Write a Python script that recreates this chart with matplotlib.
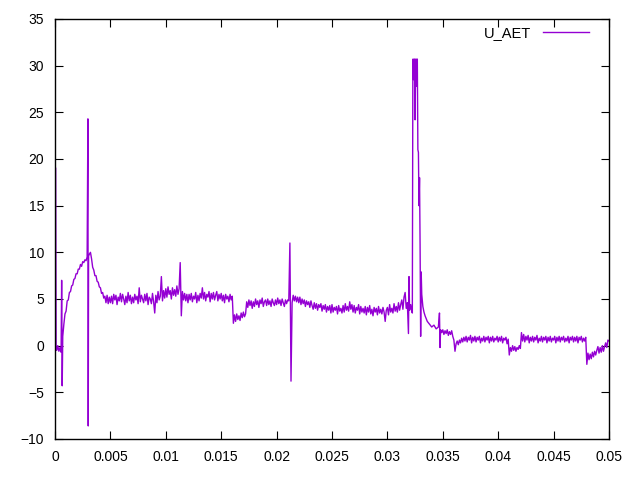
#!/usr/bin/env python3
"""U_AET voltage trace, gnuplot-like look."""

import matplotlib

matplotlib.use("Agg")
import matplotlib.pyplot as plt
from matplotlib.ticker import FormatStrFormatter, MultipleLocator

plt.rcParams["font.family"] = ["Liberation Sans", "DejaVu Sans"]

# time in ms
t_start = [0.06, 0.1, 0.15, 0.25, 0.35, 0.45, 0.55, 0.6, 0.65, 0.7, 0.8, 0.9, 1.0,
           1.1, 1.2, 1.3, 1.4, 1.5, 1.6, 1.7, 1.8, 1.9, 2.0, 2.1, 2.2, 2.3, 2.4,
           2.5, 2.6, 2.7, 2.8, 2.9, 2.97, 3.0, 3.03, 3.1, 3.2, 3.3, 3.4, 3.5, 3.6,
           3.7, 3.8, 3.9, 4.0, 4.1, 4.2, 4.3, 4.4, 4.5, 4.6, 4.7, 4.8, 4.9]
u_start = [19.0, -0.3, -0.5, 0.0, -0.6, -0.2, -0.7, 7.0, -4.3, 1.0, 2.3, 3.4, 3.7,
           4.8, 4.9, 5.7, 5.8, 6.4, 6.5, 7.1, 7.2, 7.7, 7.7, 8.2, 8.2, 8.7, 8.5,
           9.0, 8.9, 9.2, 9.1, 9.5, 24.3, -8.6, 9.6, 9.8, 10.0, 9.3, 8.4, 8.1, 7.5,
           7.5, 6.9, 6.8, 6.3, 6.2, 5.6, 5.7, 5.1, 5.3, 4.6, 5.4, 4.5, 5.2]

t_mid = [
    5.0, 5.1, 5.2, 5.3, 5.4, 5.5, 5.6, 5.7, 5.8, 5.9,
    6.0, 6.1, 6.2, 6.3, 6.4, 6.5, 6.6, 6.7, 6.8, 6.9,
    7.0, 7.1, 7.2, 7.3, 7.4, 7.5, 7.6, 7.7, 7.8, 7.9,
    8.0, 8.1, 8.2, 8.3, 8.4, 8.5, 8.6, 8.7, 8.8, 8.9,
    9.0, 9.1, 9.2, 9.3, 9.4, 9.5, 9.6, 9.7, 9.8, 9.9,
    10.0, 10.1, 10.2, 10.3, 10.4, 10.5, 10.6, 10.7, 10.8, 10.9,
    11.0, 11.1, 11.2, 11.3, 11.4, 11.5, 11.6, 11.7, 11.8, 11.9,
    12.0, 12.1, 12.2, 12.3, 12.4, 12.5, 12.6, 12.7, 12.8, 12.9,
    13.0, 13.1, 13.2, 13.3, 13.4, 13.5, 13.6, 13.7, 13.8, 13.9,
    14.0, 14.1, 14.2, 14.3, 14.4, 14.5, 14.6, 14.7, 14.8, 14.9,
    15.0, 15.1, 15.2, 15.3, 15.4, 15.5, 15.6, 15.7, 15.8, 15.9,
    16.0, 16.1, 16.2, 16.3, 16.4, 16.5, 16.6, 16.7, 16.8, 16.9,
    17.0, 17.1, 17.2, 17.3, 17.4, 17.5, 17.6, 17.7, 17.8, 17.9,
    18.0, 18.1, 18.2, 18.3, 18.4, 18.5, 18.6, 18.7, 18.8, 18.9,
    19.0, 19.1, 19.2, 19.3, 19.4, 19.5, 19.6, 19.7, 19.8, 19.9,
    20.0, 20.1, 20.2, 20.3, 20.4, 20.5, 20.6, 20.7, 20.8, 20.9,
    21.0, 21.1, 21.2, 21.3, 21.4, 21.5, 21.6, 21.7, 21.8, 21.9,
    22.0, 22.1, 22.2, 22.3, 22.4, 22.5, 22.6, 22.7, 22.8, 22.9,
    23.0, 23.1, 23.2, 23.3, 23.4, 23.5, 23.6, 23.7, 23.8, 23.9,
    24.0, 24.1, 24.2, 24.3, 24.4, 24.5, 24.6, 24.7, 24.8, 24.9,
    25.0, 25.1, 25.2, 25.3, 25.4, 25.5, 25.6, 25.7, 25.8, 25.9,
    26.0, 26.1, 26.2, 26.3, 26.4, 26.5, 26.6, 26.7, 26.8, 26.9,
    27.0, 27.1, 27.2, 27.3, 27.4, 27.5, 27.6, 27.7, 27.8, 27.9,
    28.0, 28.1, 28.2, 28.3, 28.4, 28.5, 28.6, 28.7, 28.8, 28.9,
    29.0, 29.1, 29.2, 29.3, 29.4, 29.5, 29.6, 29.7, 29.8, 29.9,
    30.0, 30.1, 30.2, 30.3, 30.4, 30.5, 30.6, 30.7, 30.8, 30.9,
    31.0, 31.1, 31.2, 31.3, 31.4, 31.5, 31.6, 31.7, 31.8, 31.9,
    31.95, 32.0, 32.1, 32.2,
]
u_mid = [
    4.6, 5.3, 4.5, 5.5, 4.9, 5.4, 4.4, 5.2, 4.8, 5.6,
    4.7, 5.5, 5.0, 4.4, 5.3, 4.6, 5.7, 4.8, 5.4, 4.5,
    5.2, 4.6, 5.5, 4.9, 5.3, 4.5, 6.2, 4.7, 5.4, 5.0,
    4.6, 5.5, 4.8, 5.6, 4.4, 5.2, 5.0, 4.5, 5.6, 4.7,
    3.5, 5.4, 4.6, 5.8, 4.9, 5.3, 7.4, 4.8, 5.9, 5.1,
    6.1, 5.2, 6.3, 5.5, 5.9, 5.0, 6.2, 5.4, 6.0, 5.3,
    6.4, 5.5, 6.1, 8.9, 3.2, 5.8, 4.9, 5.6, 4.8, 5.5,
    4.6, 5.5, 4.9, 5.6, 4.7, 5.3, 5.0, 5.7, 4.6, 5.4,
    4.8, 5.6, 5.1, 6.2, 5.0, 5.7, 4.8, 5.5, 5.2, 5.8,
    4.7, 5.6, 5.0, 5.7, 4.9, 5.4, 5.8, 4.8, 5.5, 5.0,
    5.6, 4.8, 5.4, 4.6, 5.5, 5.0, 5.3, 4.7, 5.5, 4.9,
    5.3, 2.4, 3.3, 2.6, 3.4, 2.8, 3.2, 2.7, 3.5, 3.0,
    3.6, 3.1, 3.4, 4.7, 4.1, 4.9, 4.3, 4.8, 4.0, 4.7,
    4.2, 5.0, 4.4, 4.8, 4.1, 4.9, 4.5, 5.1, 4.2, 4.7,
    4.9, 4.3, 5.0, 4.4, 4.8, 4.2, 5.0, 4.6, 4.3, 4.9,
    4.4, 5.1, 4.5, 4.9, 4.3, 5.0, 4.6, 4.2, 4.9, 4.5,
    4.9, 4.8, 11.0, -3.8, 4.6, 5.4, 4.8, 5.3, 4.7, 5.2,
    4.6, 5.2, 4.4, 5.0, 4.5, 4.9, 4.2, 4.8, 4.4, 4.7,
    4.1, 4.8, 4.3, 3.9, 4.6, 4.0, 4.5, 3.8, 4.4, 4.1,
    4.5, 3.7, 4.3, 3.9, 4.4, 3.6, 4.2, 3.8, 4.3, 3.5,
    4.4, 3.6, 4.1, 3.8, 4.2, 3.4, 4.3, 3.7, 4.0, 3.5,
    4.3, 3.6, 4.5, 3.8, 4.2, 3.7, 4.7, 3.9, 4.4, 3.6,
    4.3, 3.5, 4.1, 3.8, 4.4, 3.4, 4.2, 3.6, 4.0, 3.5,
    4.2, 3.3, 4.1, 3.6, 4.3, 3.4, 3.9, 3.2, 4.1, 3.6,
    4.0, 3.3, 4.2, 3.5, 3.9, 3.4, 4.1, 3.6, 2.6, 3.8,
    4.1, 3.3, 4.4, 3.6, 4.0, 3.5, 4.5, 3.7, 4.2, 3.6,
    4.6, 3.8, 4.4, 4.9, 3.9, 5.2, 5.7, 4.0, 4.6, 1.3,
    7.4, 3.8, 4.4, 3.7,
]

t_peak = [32.25, 32.3, 32.35, 32.4, 32.45, 32.5, 32.55, 32.6, 32.65, 32.7, 32.75,
          32.8, 32.85, 32.9, 32.95, 33.0, 33.05, 33.1, 33.2, 33.3, 33.4, 33.5,
          33.6, 33.8, 34.0, 34.2, 34.4, 34.6, 34.7, 34.75, 34.8]
u_peak = [3.5, 30.7, 28.5, 30.7, 30.7, 24.2, 30.7, 27.8, 30.7, 30.7, 21.0,
          20.7, 15.0, 18.0, 10.8, 1.0, 7.9, 5.5, 4.2, 3.6, 3.2, 2.9,
          2.6, 2.3, 2.0, 2.2, 1.8, 2.0, 3.5, -0.2, 1.7]

t_tail = [
    34.9, 35.0, 35.1, 35.2, 35.3, 35.4, 35.5, 35.6, 35.7, 35.8, 35.9,
    36.0, 36.1, 36.2, 36.3, 36.4, 36.5, 36.6, 36.7, 36.8, 36.9,
    37.0, 37.1, 37.2, 37.3, 37.4, 37.5, 37.6, 37.7, 37.8, 37.9,
    38.0, 38.1, 38.2, 38.3, 38.4, 38.5, 38.6, 38.7, 38.8, 38.9,
    39.0, 39.1, 39.2, 39.3, 39.4, 39.5, 39.6, 39.7, 39.8, 39.9,
    40.0, 40.1, 40.2, 40.3, 40.4, 40.5, 40.6, 40.7, 40.8, 40.9,
    41.0, 41.1, 41.2, 41.3, 41.4, 41.5, 41.6, 41.7, 41.8, 41.9,
    42.0, 42.1, 42.2, 42.3, 42.4, 42.5, 42.6, 42.7, 42.8, 42.9,
    43.0, 43.1, 43.2, 43.3, 43.4, 43.5, 43.6, 43.7, 43.8, 43.9,
    44.0, 44.1, 44.2, 44.3, 44.4, 44.5, 44.6, 44.7, 44.8, 44.9,
    45.0, 45.1, 45.2, 45.3, 45.4, 45.5, 45.6, 45.7, 45.8, 45.9,
    46.0, 46.1, 46.2, 46.3, 46.4, 46.5, 46.6, 46.7, 46.8, 46.9,
    47.0, 47.1, 47.2, 47.3, 47.4, 47.5, 47.6, 47.7, 47.8, 47.9,
    48.0, 48.1, 48.2, 48.3, 48.4, 48.5, 48.6, 48.7, 48.8, 48.9,
    49.0, 49.1, 49.2, 49.3, 49.4, 49.5, 49.6, 49.7, 49.8, 49.9, 50.0,
]
u_tail = [
    1.4, 1.7, 1.2, 1.6, 1.3, 1.7, 1.1, 1.5, 1.2, 1.6, 1.0,
    0.6, -0.6, 0.2, 0.5, 0.1, 0.6, 0.3, 0.8, 0.4, 0.9,
    0.5, 1.0, 0.4, 0.9, 0.6, 1.1, 0.3, 0.9, 0.5, 1.0,
    0.4, 0.9, 0.6, 1.0, 0.3, 0.8, 0.5, 1.0, 0.4, 0.9,
    0.6, 1.0, 0.3, 0.9, 0.5, 1.0, 0.4, 0.8, 0.6, 1.0,
    0.4, 0.9, 0.5, 1.0, 0.3, 0.8, 0.6, 0.9, 0.2, 0.7,
    -1.0, -0.2, -0.6, 0.0, -0.5, -0.1, -0.6, -0.2, -0.4, 0.0,
    -0.3, 1.4, 0.5, 1.2, 0.4, 1.0, 0.6, 1.1, 0.3, 0.9,
    0.5, 1.0, 0.4, 0.9, 0.6, 1.1, 0.3, 0.8, 0.5, 1.0,
    0.4, 0.9, 0.6, 1.0, 0.3, 0.9, 0.5, 1.0, 0.4, 0.8,
    0.6, 1.0, 0.3, 0.9, 0.5, 1.0, 0.4, 0.9, 0.6, 1.0,
    0.4, 0.8, 0.5, 1.0, 0.3, 0.9, 0.6, 1.0, 0.4, 0.9,
    0.5, 1.0, 0.3, 0.9, 0.6, 1.0, 0.4, 0.8, 0.5, 0.9,
    -2.0, -0.8, -1.5, -0.9, -1.4, -0.7, -1.2, -0.6, -1.0, -0.5,
    -0.1, -0.8, -0.2, -0.7, 0.0, -0.6, -0.1, 0.3, -0.2, 0.6, 0.5,
]

t_ms = t_start + t_mid + t_peak + t_tail
u_aet = u_start + u_mid + u_peak + u_tail
t_sec = [v / 1000.0 for v in t_ms]

x_ticks = [0, 0.005, 0.01, 0.015, 0.02, 0.025, 0.03, 0.035, 0.04, 0.045, 0.05]


def main() -> None:
    fig = plt.figure(figsize=(6.4, 4.8), dpi=100)
    ax = fig.add_axes([55 / 640, 1 - 439 / 480, 554 / 640, 420 / 480])

    ax.plot(t_sec, u_aet, color="#9400D3", lw=1.0, label="U_AET")

    ax.set_xlim(0, 0.05)
    ax.set_ylim(-10, 35)
    ax.set_xticks(x_ticks)
    ax.xaxis.set_major_formatter(FormatStrFormatter("%g"))
    ax.yaxis.set_major_locator(MultipleLocator(5))
    ax.tick_params(direction="in", length=6, width=0.8, top=True, right=True,
                   labelsize=10, colors="black", pad=8)
    for sp in ax.spines.values():
        sp.set_linewidth(1.0)

    ax.legend(loc="upper right", frameon=False, markerfirst=False,
              handlelength=3.2, fontsize=10.5, borderaxespad=0.0,
              bbox_to_anchor=(0.975, 0.998))

    fig.savefig("out.png", dpi=100)
    plt.close(fig)


if __name__ == "__main__":
    main()
